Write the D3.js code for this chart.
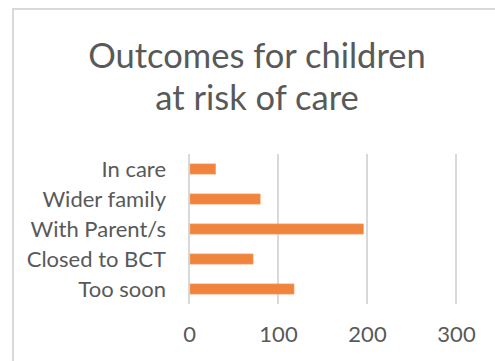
<!DOCTYPE html>
<html>
<head>
<meta charset="utf-8">
<script src="https://cdn.jsdelivr.net/npm/d3@7"></script>
<style>
  html, body { margin: 0; padding: 0; background: #fff; }
  svg { display: block; }
  text { font-family: Lato, "Open Sans", sans-serif; fill: #595959; }
</style>
</head>
<body>
<svg id="chart" width="495" height="361"></svg>
<script>
// Outcomes for children at risk of care
const categories = ["In care", "Wider family", "With Parent/s", "Closed to BCT", "Too soon"];
const values = [30, 80, 196, 72, 118];
const xTicks = [0, 100, 200, 300];
const titleLines = ["Outcomes for children", "at risk of care"];

const svg = d3.select("#chart");
const W = 495, H = 361;

// chart frame
svg.append("rect")
  .attr("x", 13).attr("y", 9)
  .attr("width", W).attr("height", H)
  .attr("fill", "#fff")
  .attr("stroke", "#d9d9d9").attr("stroke-width", 2);

// title
svg.append("g").selectAll("text")
  .data(titleLines)
  .join("text")
  .attr("x", 257)
  .attr("y", (d, i) => 68 + i * 42)
  .attr("text-anchor", "middle")
  .attr("font-size", 34.5)
  .text(d => d);

const plot = { left: 189, right: 456, top: 154, bottom: 304 };

const x = d3.scaleLinear().domain([0, 300]).range([plot.left, plot.right]);
const y = d3.scaleBand().domain(categories).range([plot.top, plot.bottom]).paddingInner(0.66).paddingOuter(0.33);

// vertical gridlines
svg.append("g").selectAll("line")
  .data(xTicks)
  .join("line")
  .attr("x1", d => x(d)).attr("x2", d => x(d))
  .attr("y1", plot.top).attr("y2", plot.bottom)
  .attr("stroke", "#d9d9d9").attr("stroke-width", 2);

// bars
svg.append("g").selectAll("rect")
  .data(categories)
  .join("rect")
  .attr("x", x(0) + 1)
  .attr("y", d => y(d))
  .attr("width", (d, i) => x(values[i]) - x(0) - 1)
  .attr("height", y.bandwidth())
  .attr("fill", "#f0843c")
  .attr("stroke", "#f6a670").attr("stroke-width", 0.6);

// category axis (labels only)
const yAxis = d3.axisLeft(y).tickSize(0).tickPadding(0);
const gy = svg.append("g").attr("transform", `translate(${plot.left - 23},0)`).call(yAxis);
gy.select(".domain").remove();
gy.selectAll("text").attr("font-size", 22).attr("dy", "0.35em").style("font-family", null);

// value axis (labels only)
const xAxis = d3.axisBottom(x).tickValues(xTicks).tickSize(0).tickPadding(0);
const gx = svg.append("g").attr("transform", `translate(0,${plot.bottom + 38})`).call(xAxis);
gx.select(".domain").remove();
gx.selectAll("text").attr("font-size", 22).attr("dy", 0).style("font-family", null);
svg.selectAll(".tick text").attr("fill", "#595959");
svg.selectAll("g").attr("font-family", null);
</script>
</body>
</html>
